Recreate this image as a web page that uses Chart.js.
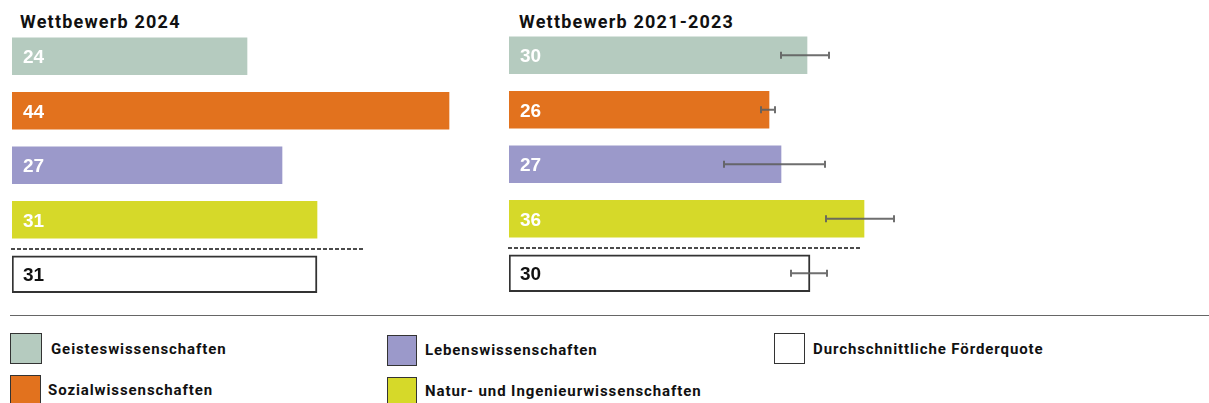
<!DOCTYPE html>
<html>
<head>
<meta charset="utf-8">
<script src="https://cdn.jsdelivr.net/npm/chart.js@4/dist/chart.umd.min.js"></script>
<style>
  html, body { margin:0; padding:0; background:#fff; }
  body { width:1209px; height:403px; position:relative; overflow:hidden; font-family:Roboto, "Liberation Sans", sans-serif; }
  canvas { position:absolute; }
  .title { position:absolute; font-weight:700; font-size:18px; letter-spacing:1.2px; color:#111; white-space:nowrap; line-height:1; }
  .rule { position:absolute; left:10px; right:0; top:315px; height:0; border-top:1.5px solid #666; }
  .lbox { position:absolute; box-sizing:border-box; border:1.5px solid #333; }
  .ltext { position:absolute; font-weight:700; font-size:15px; letter-spacing:0.9px; color:#111; white-space:nowrap; line-height:1; transform:translateY(-50%); }
</style>
</head>
<body>
<div class="title" id="t1" style="left:20px; top:13px;"></div>
<div class="title" id="t2" style="left:519px; top:13px;"></div>
<canvas id="c1" width="480" height="310" style="left:0; top:0;"></canvas>
<canvas id="c2" width="480" height="310" style="left:497px; top:0;"></canvas>
<div class="rule"></div>
<div id="legend"></div>
<script>
// ---- data ----
const titles = ['Wettbewerb 2024', 'Wettbewerb 2021-2023'];
const categories = ['Geisteswissenschaften', 'Sozialwissenschaften', 'Lebenswissenschaften', 'Natur- und Ingenieurwissenschaften', 'Durchschnittliche Förderquote'];
const values2024 = [23.5, 43.7, 27.0, 30.5, 30.5];
const labels2024 = ['24', '44', '27', '31', '31'];
const values2123 = [29.8, 26.0, 27.2, 35.5, 30.1];
const labels2123 = ['30', '26', '27', '36', '30'];
const errLow2123 = [27.2, 25.2, 21.5, 31.7, 28.2];
const errHigh2123 = [32.0, 26.6, 31.6, 38.5, 31.8];
const colors = ['#b5cbbf', '#e2721e', '#9b99ca', '#d6d929', '#ffffff'];
const labelColors = ['#ffffff', '#ffffff', '#ffffff', '#ffffff', '#111111'];
const xMax = 46;

document.getElementById('t1').textContent = titles[0];
document.getElementById('t2').textContent = titles[1];

const overlay = {
  id: 'overlay',
  afterDatasetsDraw(chart, args, opts) {
    const ctx = chart.ctx;
    const xs = chart.scales.x, ys = chart.scales.y;
    const meta = chart.getDatasetMeta(0);
    ctx.save();
    // dashed separator before the average bar
    const ySep = (ys.getPixelForValue(3) + ys.getPixelForValue(4)) / 2 + 2;
    ctx.setLineDash([4, 2]);
    ctx.strokeStyle = '#111';
    ctx.lineWidth = 1.5;
    ctx.beginPath();
    ctx.moveTo(xs.getPixelForValue(0) - 1, ySep);
    ctx.lineTo(xs.getPixelForValue(0) + 353, ySep);
    ctx.stroke();
    ctx.setLineDash([]);
    // error bars
    if (opts.low) {
      ctx.strokeStyle = 'rgba(95,95,95,0.9)';
      ctx.lineWidth = 2;
      meta.data.forEach((bar, i) => {
        const y = bar.y;
        const x1 = xs.getPixelForValue(opts.low[i]);
        const x2 = xs.getPixelForValue(opts.high[i]);
        ctx.beginPath();
        ctx.moveTo(x1, y); ctx.lineTo(x2, y);
        ctx.moveTo(x1, y - 3.5); ctx.lineTo(x1, y + 3.5);
        ctx.moveTo(x2, y - 3.5); ctx.lineTo(x2, y + 3.5);
        ctx.stroke();
      });
    }
    // value labels
    ctx.font = 'bold 19px "Liberation Sans", Arial, sans-serif';
    ctx.textBaseline = 'alphabetic';
    ctx.textAlign = 'left';
    meta.data.forEach((bar, i) => {
      ctx.fillStyle = labelColors[i];
      ctx.fillText(opts.labels[i], xs.getPixelForValue(0) + 11, bar.y + 7);
    });
    ctx.restore();
  }
};

function makeChart(id, values, labels, low, high, padTop) {
  return new Chart(document.getElementById(id), {
    type: 'bar',
    data: {
      labels: categories,
      datasets: [{
        data: values,
        backgroundColor: colors,
        borderColor: ['#333', '#333', '#333', '#333', '#333'],
        borderWidth: [0, 0, 0, 0, 2],
        borderSkipped: false,
        barThickness: 37
      }]
    },
    options: {
      indexAxis: 'y',
      responsive: false,
      animation: false,
      devicePixelRatio: 1,
      layout: { padding: { left: 12, right: 8, top: padTop, bottom: 310 - padTop - 272.5 } },
      scales: {
        x: { display: false, min: 0, max: xMax },
        y: { display: false }
      },
      plugins: {
        legend: { display: false },
        tooltip: { enabled: false },
        overlay: { labels: labels, low: low, high: high }
      }
    },
    plugins: [overlay]
  });
}

makeChart('c1', values2024, labels2024, null, null, 29);
makeChart('c2', values2123, labels2123, errLow2123, errHigh2123, 28);

// ---- HTML legend ----
const legendPos = [
  { box: [10, 333, 32, 31], text: [51, 349] },
  { box: [10, 375, 31, 31], text: [48, 390] },
  { box: [387, 335, 30, 31], text: [425, 350] },
  { box: [387, 377, 30, 31], text: [425, 391] },
  { box: [774, 333, 31, 31], text: [813, 349] }
];
const leg = document.getElementById('legend');
categories.forEach((c, i) => {
  const p = legendPos[i];
  const b = document.createElement('div');
  b.className = 'lbox';
  b.style.left = p.box[0] + 'px'; b.style.top = p.box[1] + 'px';
  b.style.width = p.box[2] + 'px'; b.style.height = p.box[3] + 'px';
  b.style.background = colors[i];
  leg.appendChild(b);
  const t = document.createElement('div');
  t.className = 'ltext';
  t.style.left = p.text[0] + 'px'; t.style.top = p.text[1] + 'px';
  t.textContent = c;
  leg.appendChild(t);
});
</script>
</body>
</html>
